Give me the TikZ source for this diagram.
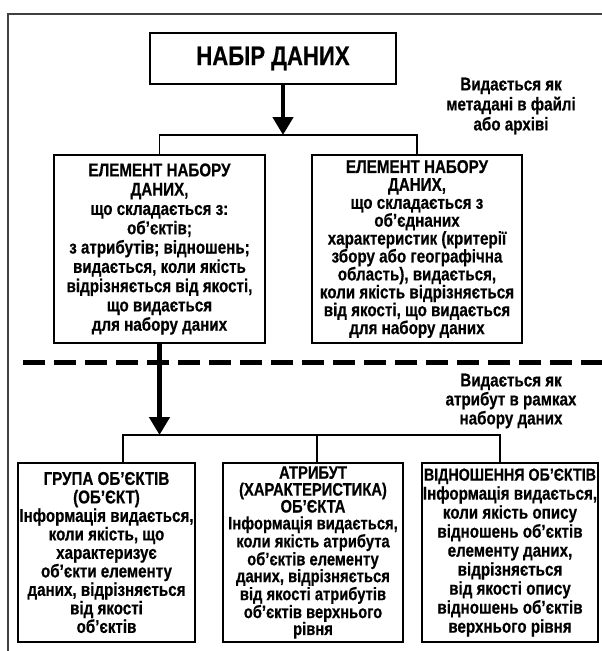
\documentclass[tikz,border=0pt]{standalone}
\usepackage{fontspec}
\setmainfont{Liberation Sans}[FakeStretch=0.82, BoldFeatures={FakeBold=0.5}]
\usetikzlibrary{arrows.meta}
\begin{document}
\begin{tikzpicture}[x=1pt,y=-1pt,
  box/.style={draw, line width=1.6pt, align=center, inner sep=0pt, font=\bfseries\fontsize{18.5}{19}\selectfont},
  lbl/.style={align=center, inner sep=0pt, font=\bfseries\fontsize{18.5}{20}\selectfont},
  bigarrow/.style={line width=4.5pt, -{Triangle[width=20pt,length=18pt]}},
  conn/.style={line width=1.6pt},
  frame/.style={line width=2pt, draw=black!75},
  sep/.style={line width=5pt, dash pattern=on 22pt off 9pt}]
\useasboundingbox (0,0) rectangle (602,651);
% outer frame
\coordinate (fa) at (602,14);
\coordinate (fb) at (8,14);
\coordinate (fc) at (8,651);
\draw[frame] (fa) -- (fb) -- (fc);
% top box
\node[box, minimum width=246pt, minimum height=51pt, font=\bfseries\fontsize{27}{30}\selectfont] (top) at (273,58.5) {НАБІР ДАНИХ};
% second level
\node[box, minimum width=211pt, minimum height=188pt, font=\bfseries\fontsize{18.5}{19.3}\selectfont] (l1) at (159.5,249)
 {ЕЛЕМЕНТ НАБОРУ\\ДАНИХ,\\що складається з:\\об’єктів;\\з атрибутів; відношень;\\видається, коли якість\\відрізняється від якості,\\що видається\\для набору даних};
\node[box, minimum width=210pt, minimum height=188pt, font=\bfseries\fontsize{18.5}{17.9}\selectfont] (r1) at (417,249)
 {ЕЛЕМЕНТ НАБОРУ\\ДАНИХ,\\що складається з\\об’єднаних\\характеристик (критерії\\збору або географічна\\область), видається,\\коли якість відрізняється\\від якості, що видається\\для набору даних};
\node[lbl] (m1) at (511,106) {Видається як\\метадані в файлі\\або архіві};
% separator
\coordinate (dl) at (23,362);
\coordinate (dr) at (602,362);
\draw[sep] (dl) -- (dr);
\node[lbl, font=\bfseries\fontsize{18.5}{19}\selectfont] (m2) at (511,401) {Видається як\\атрибут в рамках\\набору даних};
% third level
\node[box, minimum width=177pt, minimum height=179pt, font=\bfseries\fontsize{18.5}{18.5}\selectfont] (b1) at (106.5,552.5)
 {ГРУПА ОБ’ЄКТІВ\\(ОБ’ЄКТ)\\Інформація видається,\\коли якість, що\\характеризує\\об’єкти елементу\\даних, відрізняється\\від якості\\об’єктів};
\node[box, minimum width=180pt, minimum height=179pt, font=\bfseries\fontsize{18}{16.9}\selectfont] (b2) at (313,552.5)
 {АТРИБУТ\\(ХАРАКТЕРИСТИКА)\\ОБ’ЄКТА\\Інформація видається,\\коли якість атрибута\\об’єктів елементу\\даних, відрізняється\\від якості атрибутів\\об’єктів верхнього\\рівня};
\node[box, minimum width=176pt, minimum height=179pt, font=\bfseries\fontsize{18.5}{19}\selectfont] (b3) at (510,552.5)
 {{\fontsize{17.4}{19}\selectfont ВІДНОШЕННЯ ОБ’ЄКТІВ}\\Інформація видається,\\коли якість опису\\відношень об’єктів\\елементу даних,\\відрізняється\\від якості опису\\відношень об’єктів\\верхнього рівня};
% connectors top
\coordinate (j1) at (283,135);
\draw[bigarrow] (top.south -| j1) -- (j1);
\draw[conn] (l1.north) |- (j1) -| (r1.north);
% connectors bottom
\coordinate (c1) at (123,435);
\coordinate (c2) at (317,435);
\coordinate (c3) at (500,435);
\draw[bigarrow] (l1.south) -- (l1.south |- c1);
\draw[conn] (c1 |- b1.north) -- (c1) -- (c3) -- (c3 |- b3.north);
\draw[conn] (c2) -- (c2 |- b2.north);
\end{tikzpicture}
\end{document}
